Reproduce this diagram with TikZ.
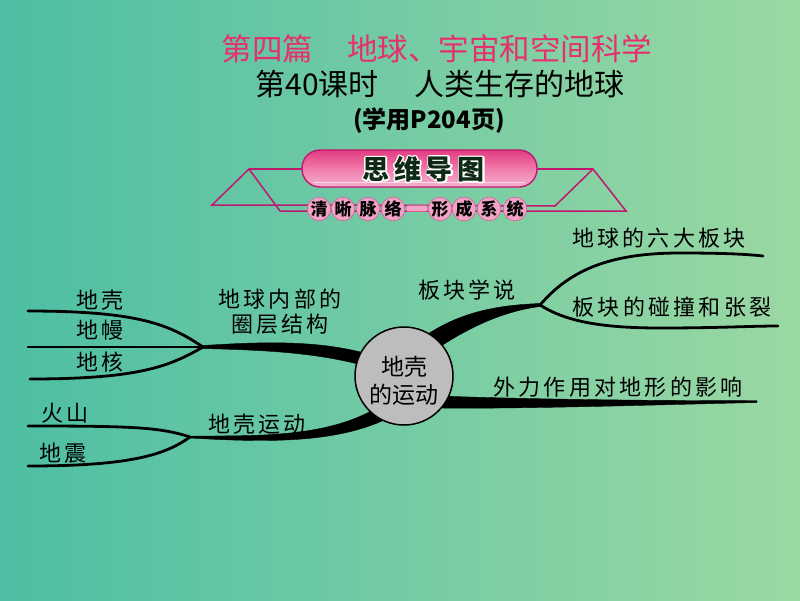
\documentclass[tikz,border=0pt]{standalone}
\usepackage{fontspec}
\usepackage{xcolor}
\newfontfamily\cjk{Noto Sans CJK SC}
\newfontfamily\cjksp[LetterSpace=15]{Noto Sans CJK SC}
\newfontfamily\cjkpill[LetterSpace=18]{Noto Sans CJK SC}
\definecolor{bgL}{HTML}{4DBEA4}
\definecolor{bgR}{HTML}{9BD8A3}
\definecolor{titlepink}{HTML}{E6306E}
\definecolor{mag}{HTML}{C01870}
\definecolor{pillA}{HTML}{E23C80}
\definecolor{pillB}{HTML}{F6B3D0}
\definecolor{pillC}{HTML}{F07AAC}
\definecolor{dotpink}{HTML}{F2A4C6}
\definecolor{nodegray}{HTML}{BDBDBD}
\definecolor{pilltext}{HTML}{0F2A14}
\tikzset{
  lbl/.style={inner sep=0pt, font=\fontsize{22}{25}\selectfont\cjksp, text=black, align=center},
  sub/.style={draw=black, line width=2.8pt, line cap=round},
  brfill/.style={fill=black, draw=black, line width=0.4pt, line join=round},
  banline/.style={draw=mag, line width=1.5pt},
  bead/.style={circle, fill=dotpink, draw=mag!70, line width=0.6pt, minimum size=21pt, inner sep=0pt, font=\fontsize{17}{17}\selectfont\cjk\bfseries, text=black}
}
\begin{document}
\begin{tikzpicture}[x=1pt,y=-1pt]
\useasboundingbox (0,0) rectangle (800,600);
\shade[left color=bgL, right color=bgR] (0,0) rectangle (800,600);

% titles
\node[inner sep=0pt, text=titlepink, font=\fontsize{30.5}{30}\selectfont\cjk] (t1) at (437,49) {第四篇\hspace{34pt}地球、宇宙和空间科学};
\node[inner sep=0pt, text=black, font=\fontsize{30}{30}\selectfont\cjk] (t2) at (440,84) {第40课时\hspace{36pt}人类生存的地球};
\node[inner sep=0pt, text=black, font=\fontsize{24}{24}\selectfont\cjk\bfseries] (t3) at (429,121) {(学用P204页)};

% banner lines
\draw[banline] (249,169) -- (305,169);
\draw[banline] (534,169) -- (593,169);
\draw[banline] (305,205) -- (212,205) -- (249,169) -- (280,211) -- (305,211);
\draw[banline] (305,205) -- (555,206) -- (593,169) -- (626,211) -- (305,211);
% pill
\shade[top color=pillA, bottom color=pillB, middle color=pillC, rounded corners=18pt] (302,150) rectangle (537,187);
\draw[mag, line width=1.4pt, rounded corners=18pt] (302,150) rectangle (537,187);
\draw[white, opacity=0.6, line width=1pt] (314,182) -- (525,182);
\coordinate (pc) at (423.5,169);
\node[inner sep=0pt, text=white, font=\fontsize{27}{27}\selectfont\cjkpill\bfseries] (pillhalo) at (pc) {\special{pdf:literal direct 2 Tr 3 w 1 j 1 1 1 RG}思维导图\special{pdf:literal direct 0 Tr}};
\node[inner sep=0pt, text=pilltext, font=\fontsize{27}{27}\selectfont\cjkpill\bfseries] (pill) at (pc) {思维导图};
% beads
\node[bead] (b1) at (319,209) {清};
\node[bead] (b2) at (343,209) {晰};
\node[bead] (b3) at (368,209) {脉};
\node[bead] (b4) at (393,209) {络};
\draw[fill=dotpink, draw=mag!70, line width=0.6pt, rounded corners=2pt] (406,205.5) rectangle (428,211.5);
\node[bead] (b5) at (440,209) {形};
\node[bead] (b6) at (464,209) {成};
\node[bead] (b7) at (489,209) {系};
\node[bead] (b8) at (515,209) {统};

% mind map coordinates
\coordinate (c) at (404,376);
\coordinate (j1) at (203,347);
\coordinate (j2) at (190,437);
\coordinate (j3) at (540,305);
\coordinate (ea) at (28,311);
\coordinate (eb) at (28,347);
\coordinate (ec) at (30,379);
\coordinate (ed) at (28,426);
\coordinate (ee) at (28,466);
\coordinate (ef) at (763,256);
\coordinate (eg) at (778,326);
\coordinate (eh) at (757,401.5);

% main branches (tapered)
\fill[brfill] (203,345.5) .. controls (260,342) and (320,339) .. (375,356) -- (372,368) .. controls (320,352) and (260,350) .. (203,348.5) -- cycle;
\fill[brfill] (190,436) .. controls (260,436) and (325,437) .. (375,409) -- (382,421) .. controls (330,444) and (260,442) .. (190,438) -- cycle;
\fill[brfill] (540,303.5) .. controls (500,305) and (460,311) .. (422,338) -- (432,352) .. controls (470,326) and (505,311) .. (540,306.5) -- cycle;
\fill[brfill] (440,396) .. controls (520,399) and (650,401) .. (757,400.5) -- (757,402.5) .. controls (650,405) and (520,409) .. (440,408) -- cycle;

% sub branches
\draw[sub] (j1) .. controls (170,325) and (140,311) .. (ea);
\draw[sub] (j1) -- (eb);
\draw[sub] (j1) .. controls (170,366) and (140,379) .. (ec);
\draw[sub] (j2) .. controls (160,427) and (130,426) .. (ed);
\draw[sub] (j2) .. controls (165,455) and (130,466) .. (ee);
\draw[sub] (j3) .. controls (570,270) and (610,253) .. (680,253) .. controls (720,253) and (745,254) .. (ef);
\draw[sub] (j3) .. controls (565,321) and (600,328) .. (660,328) .. controls (720,328) and (750,326) .. (eg);

% central node
\node[circle, draw=black, line width=1.5pt, fill=nodegray, minimum size=98pt, inner sep=0pt] (center) at (c) {};
\node[inner sep=0pt, font=\fontsize{23}{28}\selectfont\cjk, align=center] (ctext) at (404,381) {地壳\\的运动};

% labels
\node[lbl] (n1) at (280,312) {地球内部的\\圈层结构};
\node[lbl] (n2) at (257,424) {地壳运动};
\node[lbl] (n3) at (467,290) {板块学说};
\node[lbl] (n4) at (659,238) {地球的六大板块};
\node[lbl] (n5) at (672,307) {板块的碰撞和张裂};
\node[lbl] (n6) at (618,387) {外力作用对地形的影响};
\node[lbl] (m1) at (100,300) {地壳};
\node[lbl] (m2) at (100,330) {地幔};
\node[lbl] (m3) at (100,362) {地核};
\node[lbl] (m4) at (65,413) {火山};
\node[lbl] (m5) at (63,453) {地震};
\end{tikzpicture}
\end{document}
